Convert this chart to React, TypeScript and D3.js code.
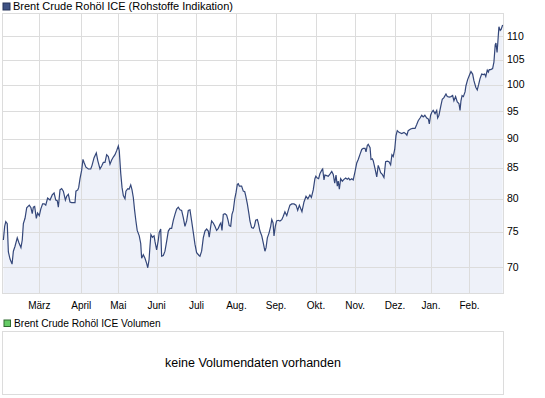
import React from 'react';
import * as d3 from 'd3';

// trading-day index since start of chart (early Feb) and Brent close in USD
const days = [
  0.2, 0.9, 1.5, 2.3, 2.9, 3.8, 4.9, 5.6, 6.5, 7.7, 8.6, 9.7, 10.4, 11.0, 11.9, 12.8, 14.2, 15.1, 15.8, 16.4,
  17.1, 18.0, 18.7, 19.6, 20.4, 21.4, 22.3, 23.1, 24.1, 25.4, 26.6, 27.6, 28.5, 29.3, 29.9, 30.8, 31.7, 32.6,
  33.7, 34.4, 35.3, 36.2, 37.1, 38.9, 39.4, 40.4, 40.9, 41.6, 42.5, 43.2, 43.9, 44.8, 46.1, 47.4, 48.1, 49.2,
  50.4, 51.2, 52.4, 53.3, 54.2, 55.1, 56.0, 56.9, 57.8, 58.7, 59.6, 60.5, 61.4, 62.3, 62.8, 63.6, 64.3, 65.0,
  65.9, 66.4, 67.4, 68.1, 69.0, 69.7, 70.4, 71.1, 71.8, 72.5, 73.6, 74.4, 74.9, 75.8, 76.7, 77.6, 78.2, 78.9,
  79.4, 79.9, 80.7, 81.6, 82.1, 83.0, 83.9, 84.4, 85.2, 85.7, 86.6, 87.5, 88.4, 89.3, 90.2, 91.1, 92.0, 92.9,
  93.8, 94.7, 95.6, 96.5, 97.4, 98.3, 99.2, 100.1, 101.0, 101.9, 102.8, 103.7, 104.6, 105.9, 106.4, 107.3,
  108.2, 109.1, 110.0, 110.9, 111.4, 112.2, 112.7, 113.6, 114.5, 115.4, 116.3, 117.2, 117.7, 118.3, 119.0,
  119.9, 120.8, 121.5, 122.2, 123.0, 123.7, 124.4, 125.2, 125.9, 126.6, 127.1, 127.7, 128.9, 129.8, 130.6,
  131.1, 132.0, 132.9, 133.4, 134.3, 135.2, 135.8, 136.5, 137.4, 137.9, 138.8, 139.8, 140.6, 141.5, 142.1,
  142.8, 143.7, 144.6, 145.2, 145.9, 146.4, 147.1, 147.8, 148.7, 149.6, 150.6, 151.4, 152.3, 153.3, 154.1,
  155.0, 156.0, 157.2, 158.3, 159.2, 160.1, 161.5, 162.6, 163.7, 164.7, 165.8, 166.6, 167.6, 168.5, 169.0,
  169.8, 170.5, 171.2, 172.2, 172.7, 173.4, 173.9, 174.9, 175.7, 176.7, 177.6, 178.4, 179.2, 179.9, 180.6,
  181.1, 181.7, 182.4, 183.3, 184.2, 185.1, 186.0, 186.7, 187.4, 188.4, 189.2, 190.2, 191.1, 191.9, 192.9,
  193.8, 194.6, 195.6, 196.1, 196.8, 197.3, 198.3, 198.8, 199.5, 200.0, 201.0, 201.9, 202.7, 203.3, 204.0,
  204.9, 205.8, 206.7, 207.6, 208.5, 209.4, 210.1, 210.8, 211.6, 212.3, 213.0, 213.9, 215.4, 216.6, 217.7,
  218.2, 218.9, 220.2, 221.3, 222.6, 223.5, 224.3, 225.3, 226.2, 227.0, 227.9, 228.9, 229.8, 230.3, 231.0,
  231.7, 232.4, 233.4, 234.3, 234.8, 235.5, 236.5, 237.3, 238.2, 239.3, 240.0, 241.1, 242.0, 242.9, 243.6,
  244.5, 245.4, 246.3, 246.9, 247.4, 248.0, 248.7, 249.6, 250.1, 251.0, 251.9, 252.8, 253.7, 254.4, 255.4,
  256.2, 257.0, 257.7, 258.6, 259.5, 260.2, 260.8, 261.6, 262.2, 262.7, 263.5, 264.5, 265.2, 265.9, 266.3,
  266.9, 267.4, 267.9, 268.6, 269.1, 269.9,
];

const prices = [
  73.8, 75.8, 76.5, 76.2, 72.1, 71.1, 70.4, 72.2, 72.9, 74.1, 73.4, 72.7, 73.8, 76.2, 77.0, 78.6, 79.0, 78.6, 77.7, 78.7,
  78.8, 77.0, 77.8, 77.4, 78.4, 79.2, 79.2, 79.0, 80.1, 79.8, 80.6, 80.9, 79.8, 79.7, 78.7, 81.4, 81.6, 81.2,
  79.8, 80.4, 80.7, 79.5, 79.4, 79.4, 81.2, 81.4, 81.8, 83.2, 84.6, 86.4, 85.8, 85.1, 84.8, 84.8, 85.4, 86.7,
  87.5, 86.2, 84.8, 85.3, 85.9, 85.9, 87.2, 86.9, 85.6, 86.3, 86.8, 87.2, 87.9, 88.7, 87.9, 84.1, 81.8, 80.5,
  80.0, 81.2, 81.6, 81.5, 82.2, 81.4, 80.2, 78.2, 76.6, 75.2, 74.4, 73.3, 71.2, 71.7, 71.2, 70.5, 69.9, 71.0,
  72.9, 74.6, 74.2, 74.4, 73.6, 72.4, 73.8, 74.9, 75.4, 71.5, 71.6, 72.2, 73.6, 75.1, 75.5, 75.5, 76.7, 77.6,
  78.4, 78.7, 78.3, 78.2, 77.1, 75.8, 76.6, 78.2, 78.3, 76.6, 74.9, 73.2, 72.0, 71.6, 71.5, 72.2,
  74.1, 75.1, 75.4, 75.1, 74.2, 75.8, 76.6, 76.3, 75.8, 75.2, 75.5, 76.1, 76.3, 75.2, 77.6,
  77.7, 77.5, 76.8, 75.9, 75.8, 77.6, 78.2, 80.0, 81.0, 82.3, 82.4, 82.0, 82.0, 81.2, 81.1,
  80.5, 79.2, 77.6, 76.6, 75.6, 75.5, 75.8, 76.7, 76.8, 76.3, 75.1, 74.4, 73.4, 72.2, 72.7,
  74.1, 74.8, 75.8, 76.8, 76.3, 74.4, 75.8, 76.6, 76.7, 76.6, 76.8, 77.3, 78.0, 77.4, 78.2,
  79.0, 79.2, 79.2, 79.0, 78.2, 79.0, 78.0, 79.5, 80.4, 80.0, 80.6, 80.2, 81.4, 83.2, 83.6,
  83.3, 83.2, 84.0, 84.6, 84.8, 83.0, 83.8, 83.7, 83.6, 84.0, 84.4, 83.9, 82.5, 83.8, 82.0,
  82.8, 81.5, 83.2, 82.8, 83.1, 83.3, 83.1, 83.3, 83.0, 83.2, 83.0, 84.4, 85.8, 86.4, 87.3,
  88.1, 88.3, 88.3, 87.7, 88.8, 89.0, 88.4, 86.4, 86.5, 86.2, 84.8, 83.5, 85.4, 84.9, 84.2,
  83.9, 83.4, 86.0, 86.1, 86.0, 85.5, 87.2, 86.9, 88.1, 90.5, 91.4, 91.1, 90.9, 91.1, 90.8,
  90.6, 91.4, 91.7, 91.8, 91.8, 92.5, 93.2, 93.7, 94.2, 93.9, 94.2, 93.7, 93.5, 92.6, 94.2,
  94.8, 95.1, 94.5, 95.1, 93.7, 94.2, 95.9, 97.2, 97.5, 98.2, 97.7, 97.6, 97.7, 97.9, 96.9,
  97.7, 96.7, 96.4, 95.1, 96.9, 97.9, 97.7, 98.6, 99.8, 101.0, 101.8, 102.6, 102.1, 100.8, 99.5,
  99.0, 100.1, 101.2, 102.1, 102.0, 102.1, 101.6, 102.9, 102.5, 103.0, 103.0, 103.2, 104.5, 108.1, 108.5,
  106.5, 109.1, 112.0, 111.2, 111.4, 112.4,
];

const monthLabels = ['März', 'April', 'Mai', 'Juni', 'Juli', 'Aug.', 'Sep.', 'Okt.', 'Nov.', 'Dez.', 'Jan.', 'Feb.'];
const monthStarts = [19.6, 42.3, 62.3, 83.0, 104.5, 126.1, 147.5, 169.1, 190.2, 211.8, 231.2, 252.0];
const priceTicks = [70, 75, 80, 85, 90, 95, 100, 105, 110];

const title = 'Brent Crude Rohöl ICE (Rohstoffe Indikation)';
const volumeTitle = 'Brent Crude Rohöl ICE Volumen';
const noVolume = 'keine Volumendaten vorhanden';

const W = 545;
const H = 398;
const plot = { left: 2.5, right: 503.5, top: 13.5, bottom: 293.5 };
const vol = { top: 331.5, bottom: 394.5 };
const font = '"Liberation Sans", Arial, sans-serif';
const gridColor = '#dcdcdc';
const lineColor = '#34477a';
const fillColor = '#eef1f9';

export default function App() {
  const x = d3.scaleLinear().domain([0, 270]).range([3, 502.8]);
  const y = d3.scaleLog().domain([66.53, 115.06]).range([293, 13]);

  const points = days.map((d, i) => ({ d, v: prices[i] }));

  const line = d3.line<{ d: number; v: number }>()
    .x(p => x(p.d))
    .y(p => y(p.v));

  const area = d3.area<{ d: number; v: number }>()
    .x(p => x(p.d))
    .y0(plot.bottom)
    .y1(p => y(p.v));

  return (
    <svg
      width={W}
      height={H}
      style={{ position: 'absolute', left: 0, top: 0, background: '#fff' }}
      fontFamily={font}
    >
      {/* price legend */}
      <rect x={3} y={3} width={7} height={7} fill="#3f5384" stroke="#27355a" strokeWidth={1} />
      <text x={13} y={10} fontSize={11} fill="#000">{title}</text>

      <path d={area(points) || ''} fill={fillColor} />

      {/* grid */}
      {priceTicks.map(t => (
        <line key={'h' + t} x1={plot.left} x2={plot.right} y1={Math.round(y(t)) + 0.5} y2={Math.round(y(t)) + 0.5}
          stroke={gridColor} />
      ))}
      {monthStarts.map((m, i) => (
        <line key={'v' + i} x1={Math.round(x(m)) + 0.5} x2={Math.round(x(m)) + 0.5} y1={plot.top} y2={plot.bottom}
          stroke={gridColor} />
      ))}
      <rect x={plot.left} y={plot.top} width={plot.right - plot.left} height={plot.bottom - plot.top}
        fill="none" stroke={gridColor} />

      <path d={line(points) || ''} fill="none" stroke={lineColor} strokeWidth={1.2} />

      {/* axes labels */}
      {priceTicks.map(t => (
        <text key={'yl' + t} x={507} y={y(t)} dy="0.35em" fontSize={10.5} fill="#000">{t}</text>
      ))}
      {monthLabels.map((m, i) => (
        <text key={'xl' + i} x={x(monthStarts[i])} y={308.5} textAnchor="middle" fontSize={10} fill="#000">{m}</text>
      ))}

      {/* volume panel */}
      <rect x={4} y={320} width={6.5} height={6.5} fill="#66cc66" stroke="#2f6a2f" strokeWidth={1} />
      <text x={14} y={327} fontSize={10.2} fill="#000">{volumeTitle}</text>
      <rect x={plot.left} y={vol.top} width={plot.right - plot.left} height={vol.bottom - vol.top}
        fill="#fff" stroke={gridColor} />
      <text x={(plot.left + plot.right) / 2} y={366.5} textAnchor="middle" fontSize={12.5} fill="#000">
        {noVolume}
      </text>
    </svg>
  );
}
